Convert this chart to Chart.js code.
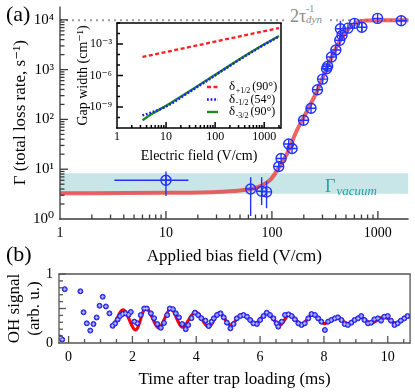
<!DOCTYPE html>
<html>
<head>
<meta charset="utf-8">
<script src="https://cdn.jsdelivr.net/npm/chart.js@4.4.1/dist/chart.umd.min.js"></script>
<style>
html,body{margin:0;padding:0;background:#fff;}
#wrap{position:relative;width:415px;height:392px;overflow:hidden;background:#fff;font-family:'Liberation Serif','DejaVu Serif',serif;color:#000;}
#wrap canvas{position:absolute;}
.t{position:absolute;white-space:nowrap;line-height:1;}
</style>
</head>
<body>
<div id="wrap">
  <canvas id="chartA" width="415" height="270" style="left:0;top:0;width:415px;height:270px"></canvas>
  <canvas id="chartB" width="415" height="130" style="left:0;top:262px;width:415px;height:130px"></canvas>
  <canvas id="chartI" width="215" height="150" style="left:70px;top:15px;width:215px;height:150px"></canvas>
  <div class="t" style="left:6px;top:3px;font-size:22px">(a)</div>
  <div class="t" style="left:6px;top:243px;font-size:22px">(b)</div>
  <div class="t" style="left:286px;top:2px;height:24px;width:41px;background:#fff;color:#8c8c8c">
    <span style="position:absolute;left:4px;top:5px;font-size:18px">2τ</span>
    <span style="position:absolute;left:20px;top:2px;font-size:10px">-1</span>
    <span style="position:absolute;left:20px;top:12px;font-size:11px;font-style:italic">dyn</span>
  </div>
  <div class="t" style="left:325px;top:177px;color:#2a9f9f">
    <span style="font-size:18px">Γ</span><span style="font-size:13px;font-style:italic;position:relative;top:3px;left:1px">vacuum</span>
  </div>
</div>
<script>
const FONT = "'Liberation Serif','DejaVu Serif',serif";
Chart.defaults.font.family = FONT;
Chart.defaults.color = '#000';
Chart.defaults.animation = false;

// ---------------- panel (a): loss rate vs applied field ----------------
const fieldA    = [10, 63, 80, 89, 116, 122, 144, 155, 199, 234, 269, 301, 328, 336, 365, 401, 437, 443, 459, 522, 602, 706, 994, 1660];
const rateA     = [6.0, 4.0, 3.6, 3.5, 11.3, 16.4, 32, 26, 96, 168, 394, 645, 1040, 1170, 1790, 2480, 3890, 6600, 4880, 6800, 8500, 7100, 10700, 9560];
const rateLoA   = [2.9, 1.15, 1.9, 1.65, null, null, null, null, null, null, null, null, null, null, null, null, null, 4200, null, null, null, 5800, null, null];
const rateHiA   = [9.0, 6.9, 6.9, 5.8, null, null, null, null, null, null, null, null, null, null, null, null, null, 9600, null, null, null, 8900, null, null];
const fieldLoA  = [3.26, null, null, null, null, null, null, null, null, null, null, null, null, null, null, null, null, null, null, null, null, null, null, null];
const fieldHiA  = [16.3, null, null, null, null, null, null, null, null, null, null, null, null, null, null, null, null, null, null, null, null, null, null, null];
const fitFieldA = [1, 10, 30, 50, 63, 78, 97, 112, 139, 172, 214, 265, 328, 407, 504, 625, 775, 1000, 1950];
const fitRateA  = [3.3, 3.35, 3.5, 3.75, 4.0, 4.6, 6.2, 9.5, 20.6, 60, 146, 360, 1050, 2840, 5850, 8700, 9700, 9800, 9800];
const vacuumBandA = [3.2, 8.3];
const dynRateA  = 9800;
const fieldRangeA = [1, 1950];
const rateRangeA  = [1, 18600];
const xTickValsA = [1, 10, 100, 1000];
const xTickLabelsA = ['1', '10', '100', '1000'];
const yTickValsA = [1, 10, 100, 1000, 10000];
const yTickLabelsA = ['10⁰', '10¹', '10²', '10³', '10⁴'];

// ---------------- inset: gap width vs electric field ----------------
const gapFieldPlusI  = [3.3, 2000];
const gapPlusI       = [5.8e-5, 3.3e-2];
const gapFieldMinusI = [3.3, 5, 10, 30, 100, 300, 1000, 2000];
const gapMinusI      = [1.6e-10, 3.0e-10, 1.1e-9, 2.7e-8, 1.0e-6, 2.8e-5, 8.5e-4, 5.2e-3];
const gapFieldM3I    = [3.3, 5, 10, 30, 100, 300, 1000, 2000];
const gapM3I         = [5.5e-11, 2.0e-10, 1.3e-9, 3.2e-8, 1.15e-6, 3.2e-5, 9.5e-4, 5.8e-3];
const fieldRangeI = [1, 2200];
const gapRangeI   = [1e-11, 1e-1];
const xTickValsI = [1, 10, 100, 1000];
const xTickLabelsI = ['1', '10', '100', '1000'];
const yTickValsI = [1e-3, 1e-6, 1e-9];
const yTickLabelsI = ['10⁻³', '10⁻⁶', '10⁻⁹'];
const legendSubI = ['+1/2', '-1/2', '-3/2'];
const legendAngI = ['(90°)', '(54°)', '(90°)'];

// ---------------- panel (b): OH signal vs time ----------------
const timeB = [-0.27, -0.2, -0.12, 0.37, 0.47, 0.57, 0.68, 0.78, 0.88, 0.97, 1.07, 1.17, 1.28, 1.38, 1.46, 1.54, 1.61, 1.69, 1.78, 1.88, 1.95, 2.06, 2.16, 2.26, 2.37, 2.45, 2.58, 2.68, 2.78, 2.89, 2.99, 3.09, 3.17, 3.27, 3.36, 3.46, 3.56, 3.67, 3.75, 3.85, 3.96, 4.06, 4.16, 4.29, 4.39, 4.48, 4.55, 4.65, 4.76, 4.86, 4.96, 5.07, 5.17, 5.27, 5.38, 5.48, 5.59, 5.69, 5.79, 5.90, 6.00, 6.11, 6.21, 6.31, 6.42, 6.52, 6.57, 6.68, 6.78, 6.89, 6.99, 7.09, 7.20, 7.30, 7.40, 7.51, 7.61, 7.72, 7.82, 7.92, 8.03, 8.13, 8.23, 8.34, 8.44, 8.55, 8.65, 8.75, 8.86, 8.96, 9.07, 9.17, 9.27, 9.38, 9.48, 9.58, 9.69, 9.79, 9.89, 10.00, 10.10, 10.21, 10.31, 10.41, 10.52, 10.62];
const signalB = [0.08, 0.05, 0.78, 0.75, 0.445, 0.285, 0.18, 0.275, 0.37, 0.54, 0.67, 0.53, 0.43, 0.25, 0.285, 0.34, 0.39, 0.42, 0.43, 0.41, 0.45, 0.31, 0.285, 0.405, 0.50, 0.50, 0.43, 0.36, 0.275, 0.22, 0.29, 0.405, 0.50, 0.49, 0.43, 0.37, 0.275, 0.20, 0.26, 0.36, 0.44, 0.405, 0.36, 0.324, 0.246, 0.309, 0.357, 0.406, 0.43, 0.372, 0.295, 0.213, 0.275, 0.357, 0.391, 0.406, 0.381, 0.333, 0.285, 0.275, 0.333, 0.391, 0.44, 0.406, 0.357, 0.285, 0.237, 0.309, 0.406, 0.415, 0.391, 0.343, 0.285, 0.261, 0.285, 0.357, 0.42, 0.406, 0.357, 0.309, 0.188, 0.309, 0.333, 0.357, 0.372, 0.333, 0.275, 0.261, 0.295, 0.333, 0.357, 0.391, 0.333, 0.285, 0.295, 0.343, 0.357, 0.324, 0.381, 0.391, 0.324, 0.261, 0.285, 0.324, 0.357, 0.391];
const fitTimeB   = [1.38, 1.71, 2.1, 2.42, 2.83, 3.2, 3.56, 3.98, 4.39, 4.72, 5.07, 5.43, 5.85, 6.21, 6.62, 6.92, 7.3, 7.65, 8.02, 8.4, 8.75, 9.12, 9.48, 9.88, 10.25, 10.62, 10.7];
const fitSignalB = [0.22, 0.48, 0.19, 0.51, 0.22, 0.50, 0.23, 0.45, 0.23, 0.44, 0.26, 0.41, 0.285, 0.43, 0.26, 0.41, 0.27, 0.41, 0.28, 0.37, 0.28, 0.38, 0.29, 0.38, 0.29, 0.38, 0.375];
const timeRangeB = [-0.3, 10.7];
const signalRangeB = [0, 1];
const xTickValsB = [0, 2, 4, 6, 8, 10];
const xTickLabelsB = ['0', '2', '4', '6', '8', '10'];
const xMinorStepB = 0.5;
const yTickValsB = [0, 1];
const yTickLabelsB = ['0', '1'];
const yMinorStepB = 0.1;

// ---------------- helpers ----------------
const pairs = (xs, ys) => xs.map((x, i) => ({x: x, y: ys[i]}));
const same = (a, b) => a === 0 ? Math.abs(b) < 1e-9 : Math.abs(a - b) <= 1e-6 * Math.abs(a);
function logTicks(min, max, full) {
  const out = [];
  for (let e = Math.floor(Math.log10(min)); e <= Math.ceil(Math.log10(max)); e++) {
    for (let m = 1; m <= (full ? 9 : 1); m++) {
      const v = parseFloat((m * Math.pow(10, e)).toPrecision(6));
      if (v >= min * 0.9999 && v <= max * 1.0001) out.push({value: v});
    }
  }
  return out;
}
function linTicks(min, max, step) {
  const out = [];
  for (let k = Math.ceil(min / step - 1e-9); k * step <= max + 1e-9; k++) out.push({value: parseFloat((k * step).toFixed(6))});
  return out;
}
function labeler(vals, labels) {
  return (v) => { const i = vals.findIndex(t => same(t, v)); return i < 0 ? '' : labels[i]; };
}
function drawLine(ctx, x1, y1, x2, y2) { ctx.beginPath(); ctx.moveTo(x1, y1); ctx.lineTo(x2, y2); ctx.stroke(); }

const frameCfg = {
  chartA: {box: false, color: '#3a3a3a', width: 1.3, majorX: xTickValsA, majorY: yTickValsA, majorLen: 8, minorLen: 4.5},
  chartI: {box: true, color: '#000', width: 1.5, majorX: [10, 100, 1000], majorY: yTickValsI, majorLen: 6, minorLen: 3},
  chartB: {box: true, color: '#555', width: 1.3, majorX: xTickValsB, majorY: [0, 0.5, 1], majorLen: 7, minorLen: 4}
};
const framePlugin = {
  id: 'framePlugin',
  afterDatasetsDraw(chart) {
    const o = frameCfg[chart.canvas.id]; if (!o) return;
    const ctx = chart.ctx, a = chart.chartArea, xs = chart.scales.x, ys = chart.scales.y;
    ctx.save();
    ctx.strokeStyle = o.color; ctx.lineWidth = o.width; ctx.lineCap = 'butt';
    xs.ticks.forEach(t => {
      const p = xs.getPixelForValue(t.value);
      if (p < a.left + 0.5 || p > a.right + 0.5) return;
      const L = o.majorX.some(m => same(m, t.value)) ? o.majorLen : o.minorLen;
      drawLine(ctx, p, a.bottom, p, a.bottom - L);
    });
    ys.ticks.forEach(t => {
      const p = ys.getPixelForValue(t.value);
      if (p < a.top - 0.5 || p > a.bottom - 0.5) return;
      const L = o.majorY.some(m => same(m, t.value)) ? o.majorLen : o.minorLen;
      drawLine(ctx, a.left, p, a.left + L, p);
    });
    drawLine(ctx, a.left, a.top, a.left, a.bottom + o.width / 2);
    drawLine(ctx, a.left - o.width / 2, a.bottom, a.right, a.bottom);
    if (o.box) {
      drawLine(ctx, a.left - o.width / 2, a.top, a.right + o.width / 2, a.top);
      drawLine(ctx, a.right, a.top, a.right, a.bottom + o.width / 2);
    }
    ctx.restore();
  }
};
const errorBarPlugin = {
  id: 'errorBarPlugin',
  afterDatasetsDraw(chart) {
    if (chart.canvas.id !== 'chartA') return;
    const ctx = chart.ctx, xs = chart.scales.x, ys = chart.scales.y;
    ctx.save(); ctx.strokeStyle = '#2233ff'; ctx.lineWidth = 1.4;
    fieldA.forEach((f, i) => {
      const px = xs.getPixelForValue(f), py = ys.getPixelForValue(rateA[i]);
      if (rateLoA[i] != null) drawLine(ctx, px, ys.getPixelForValue(rateLoA[i]), px, ys.getPixelForValue(rateHiA[i]));
      if (fieldLoA[i] != null) drawLine(ctx, xs.getPixelForValue(fieldLoA[i]), py, xs.getPixelForValue(fieldHiA[i]), py);
    });
    ctx.restore();
  }
};
const insetBgPlugin = {
  id: 'insetBg',
  beforeDatasetsDraw(chart) {
    if (chart.canvas.id !== 'chartI') return;
    const ctx = chart.ctx, a = chart.chartArea;
    ctx.save(); ctx.fillStyle = '#fff'; ctx.fillRect(a.left, a.top, a.right - a.left, a.bottom - a.top); ctx.restore();
  },
  afterDraw(chart) {
    if (chart.canvas.id !== 'chartI') return;
    const ctx = chart.ctx, a = chart.chartArea;
    const styles = chart.data.datasets;
    ctx.save();
    [0, 1, 2].forEach((di, i) => {
      const ds = styles[di];
      const y = a.top + 64 + i * 12.5;
      ctx.strokeStyle = ds.borderColor; ctx.lineWidth = ds.borderWidth;
      ctx.setLineDash(ds.borderDash || []);
      drawLine(ctx, a.left + 90, y, a.left + 101, y);
      ctx.setLineDash([]);
      ctx.fillStyle = '#000'; ctx.textBaseline = 'middle'; ctx.textAlign = 'left';
      ctx.font = '13px ' + FONT;
      let x = a.left + 112;
      ctx.fillText('δ', x, y);
      x += ctx.measureText('δ').width + 0.5;
      ctx.font = '8px ' + FONT;
      ctx.fillText(legendSubI[i], x, y + 3.5);
      x += ctx.measureText(legendSubI[i]).width + 2;
      ctx.font = '12px ' + FONT;
      ctx.fillText(legendAngI[i], x, y);
    });
    ctx.restore();
  }
};

function yFit(w) { return s => { s.width = w; s.paddingTop = 0; s.paddingBottom = 0; }; }
function xFit(h) { return s => { s.height = h; s.paddingLeft = 0; s.paddingRight = 0; }; }
const noGrid = {display: false, drawTicks: false};

// ---------------- chart (a) ----------------
new Chart(document.getElementById('chartA'), {
  type: 'line',
  data: {
    datasets: [
      {data: pairs(fieldA, rateA), showLine: false, pointStyle: 'cross', pointRadius: 5, borderColor: '#2233ff', borderWidth: 1.4, order: 0},
      {data: pairs(fieldA, rateA), showLine: false, pointStyle: 'circle', pointRadius: 5, borderColor: '#2233ff', backgroundColor: 'rgba(0,0,0,0)', borderWidth: 1.4, order: 1},
      {data: pairs(fitFieldA, fitRateA), showLine: true, pointRadius: 0, borderColor: 'rgba(232,62,62,0.8)', borderWidth: 4, cubicInterpolationMode: 'monotone', order: 5},
      {data: pairs(fieldRangeA, [dynRateA, dynRateA]), showLine: true, pointRadius: 0, borderColor: '#9a9a9a', borderWidth: 2, borderDash: [2, 4], order: 9},
      {data: pairs(fieldRangeA, [vacuumBandA[1], vacuumBandA[1]]), showLine: true, pointRadius: 0, borderWidth: 0, borderColor: 'rgba(0,0,0,0)', backgroundColor: '#c8e5e7', fill: {value: vacuumBandA[0]}, order: 10}
    ]
  },
  options: {
    responsive: false, animation: false, events: [],
    layout: {padding: {top: 0, right: 2, left: 0, bottom: 0}},
    plugins: {legend: {display: false}, tooltip: {enabled: false}},
    scales: {
      x: {type: 'logarithmic', min: fieldRangeA[0], max: fieldRangeA[1],
          afterBuildTicks: s => { s.ticks = logTicks(fieldRangeA[0], fieldRangeA[1], true); },
          ticks: {autoSkip: false, maxRotation: 0, padding: 6, font: {size: 14}, color: '#000', callback: labeler(xTickValsA, xTickLabelsA)},
          grid: noGrid, border: {display: false},
          title: {display: true, text: 'Applied bias field (V/cm)', font: {size: 17}, color: '#000', padding: {top: 0, bottom: 3}},
          afterFit: xFit(51)},
      y: {type: 'logarithmic', min: rateRangeA[0], max: rateRangeA[1],
          afterBuildTicks: s => { s.ticks = logTicks(rateRangeA[0], rateRangeA[1], true); },
          ticks: {autoSkip: false, padding: 6, font: {size: 15}, color: '#000', callback: labeler(yTickValsA, yTickLabelsA)},
          grid: noGrid, border: {display: false},
          title: {display: true, text: 'Γ (total loss rate, s⁻¹)', font: {size: 17}, color: '#000', padding: {top: 10, bottom: 0}},
          afterFit: yFit(60)}
    }
  },
  plugins: [framePlugin, errorBarPlugin]
});

// ---------------- inset ----------------
new Chart(document.getElementById('chartI'), {
  type: 'line',
  data: {
    datasets: [
      {data: pairs(gapFieldPlusI, gapPlusI), showLine: true, pointRadius: 0, borderColor: '#ff1f1f', borderWidth: 2.3, borderDash: [4, 2.5], order: 2},
      {data: pairs(gapFieldMinusI, gapMinusI), showLine: true, pointRadius: 0, borderColor: '#1a1aff', borderWidth: 2.4, borderDash: [1.8, 1.8], cubicInterpolationMode: 'monotone', order: 0},
      {data: pairs(gapFieldM3I, gapM3I), showLine: true, pointRadius: 0, borderColor: '#1f8a1f', borderWidth: 2.4, cubicInterpolationMode: 'monotone', order: 1}
    ]
  },
  options: {
    responsive: false, animation: false, events: [],
    layout: {padding: {top: 8, right: 4, left: 0, bottom: 0}},
    plugins: {legend: {display: false}, tooltip: {enabled: false}},
    scales: {
      x: {type: 'logarithmic', min: fieldRangeI[0], max: fieldRangeI[1],
          afterBuildTicks: s => { s.ticks = logTicks(fieldRangeI[0], fieldRangeI[1], true); },
          ticks: {autoSkip: false, maxRotation: 0, padding: 2, font: {size: 12}, color: '#000', callback: labeler(xTickValsI, xTickLabelsI)},
          grid: noGrid, border: {display: false},
          title: {display: true, text: 'Electric field (V/cm)', font: {size: 14}, color: '#000', padding: {top: 0, bottom: 0.6}},
          afterFit: xFit(37)},
      y: {type: 'logarithmic', min: gapRangeI[0], max: gapRangeI[1],
          afterBuildTicks: s => { s.ticks = logTicks(gapRangeI[0], gapRangeI[1], false); },
          ticks: {autoSkip: false, padding: 5, font: {size: 12}, color: '#000', callback: labeler(yTickValsI, yTickLabelsI)},
          grid: noGrid, border: {display: false},
          title: {display: true, text: 'Gap width (cm⁻¹)', font: {size: 14}, color: '#000', padding: {top: 4.6, bottom: 0}},
          afterFit: yFit(47)}
    }
  },
  plugins: [insetBgPlugin, framePlugin]
});

// ---------------- chart (b) ----------------
new Chart(document.getElementById('chartB'), {
  type: 'line',
  data: {
    datasets: [
      {data: pairs(timeB, signalB), showLine: false, pointStyle: 'cross', pointRadius: 1.6, borderColor: 'rgba(215,215,255,0.95)', borderWidth: 0.8, order: 0},
      {data: pairs(timeB, signalB), showLine: false, pointStyle: 'circle', pointRadius: 2.5, backgroundColor: '#4646ff', borderColor: '#1818e6', borderWidth: 0.9, order: 1},
      {data: pairs(fitTimeB, fitSignalB), showLine: true, pointRadius: 0, borderColor: '#ff0000', borderWidth: 3.2, cubicInterpolationMode: 'monotone', order: 2}
    ]
  },
  options: {
    responsive: false, animation: false, events: [],
    layout: {padding: {top: 12, right: 2, left: 0, bottom: 0}},
    plugins: {legend: {display: false}, tooltip: {enabled: false}},
    scales: {
      x: {type: 'linear', min: timeRangeB[0], max: timeRangeB[1],
          afterBuildTicks: s => { s.ticks = linTicks(timeRangeB[0], timeRangeB[1], xMinorStepB); },
          ticks: {autoSkip: false, maxRotation: 0, padding: 6, font: {size: 14}, color: '#000', callback: labeler(xTickValsB, xTickLabelsB)},
          grid: noGrid, border: {display: false},
          title: {display: true, text: 'Time after trap loading (ms)', font: {size: 17}, color: '#000', padding: {top: 0, bottom: 1.8}},
          afterFit: xFit(49)},
      y: {type: 'linear', min: signalRangeB[0], max: signalRangeB[1],
          afterBuildTicks: s => { s.ticks = linTicks(signalRangeB[0], signalRangeB[1], yMinorStepB); },
          ticks: {autoSkip: false, padding: 6, font: {size: 14}, color: '#000', callback: labeler(yTickValsB, yTickLabelsB)},
          grid: noGrid, border: {display: false},
          title: {display: true, text: ['OH signal', '(arb. u.)'], font: {size: 17, lineHeight: 1.2}, color: '#000', padding: {top: 4, bottom: 0}},
          afterFit: yFit(59)}
    }
  },
  plugins: [framePlugin]
});
</script>
</body>
</html>
